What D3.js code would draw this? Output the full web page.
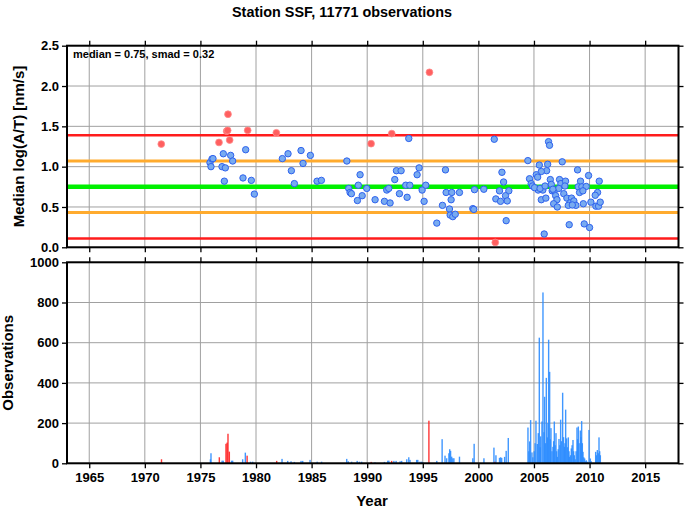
<!DOCTYPE html>
<html><head><meta charset="utf-8">
<script src="https://cdn.jsdelivr.net/npm/d3@7"></script>
<style>body{margin:0;background:#fff}svg{display:block}text{font-family:"Liberation Sans",Arial,sans-serif;font-weight:bold;fill:#000}</style>
</head><body><svg id="c" width="685" height="511"></svg>
<script>
// ---- data ----
const title = "Station SSF, 11771 observations";
const median = 0.75, smad = 0.32;
const xTicks = [1965,1970,1975,1980,1985,1990,1995,2000,2005,2010,2015];
const yTicksTop = [0,0.5,1,1.5,2,2.5];
const yTicksBot = [0,200,400,600,800,1000];
// median points [year, value]
const pointYears = [1971.48,1977.48,1977.36,1977.45,1979.25,1981.83,1976.67,1977.63,
 1975.86,1975.95,1976.04,1976.13,1976.94,1977.24,1977.06,1977.72,1977.90,1977.15,1979.07,1978.83,1979.58,1979.85,
 1982.37,1982.88,1983.18,1983.45,1984.05,1984.23,1984.89,1985.49,1985.88,
 1995.60,1992.21,1990.35,1993.74,1988.17,1989.36,1989.20,1988.34,1988.46,1988.58,1989.55,1989.12,1989.96,1990.71,
 1991.55,1992.06,1991.76,1991.94,1992.48,1992.63,1993.05,1992.90,1993.47,1993.83,1993.59,1994.49,1994.67,1994.94,
 1995.27,1995.12,1996.26,1997.04,1997.10,1997.61,1998.30,1997.55,1996.77,1997.40,1997.46,1997.70,1997.92,1999.50,
 1999.59,1999.65,2000.49,
 2001.52,2001.43,2006.31,2006.40,2004.45,2007.54,2005.48,2006.23,2006.14,2005.66,2005.21,2005.33,2002.12,2002.27,
 2004.60,2004.75,2004.87,2006.47,2006.56,2007.30,2007.42,2007.84,2007.78,2008.92,2009.19,2009.91,2010.87,2005.38,
 2005.80,2006.64,2006.82,2007.23,2007.68,2008.98,2009.31,2009.70,2009.10,2009.40,2010.72,2010.51,2001.90,2002.74,
 2001.57,2001.99,2002.44,2002.60,2005.66,2006.07,2006.95,2007.07,2006.77,2007.10,2007.96,2008.38,2008.23,2008.59,
 2008.77,2008.09,2008.45,2009.44,2010.12,2010.57,2010.81,2010.96,2002.50,2005.92,2008.17,2009.52,2010.00,
 2005.05,2005.55,2006.00,2006.70];
const pointValues = [1.28,1.65,1.44,1.45,1.45,1.42,1.30,1.33,
 1.05,1.00,1.095,1.10,1.00,0.985,1.16,1.14,1.07,0.82,1.21,0.86,0.83,0.66,
 1.10,1.16,0.95,0.79,1.20,1.04,1.14,0.82,0.83,
 2.17,1.41,1.285,1.35,1.07,0.90,0.77,0.73,0.68,0.665,0.64,0.58,0.73,0.59,
 0.57,0.55,0.71,0.73,0.84,0.95,0.95,0.665,0.77,0.77,0.62,0.90,0.985,0.71,
 0.77,0.57,0.30,0.96,0.68,0.68,0.68,0.59,0.52,0.475,0.40,0.38,0.41,0.48,
 0.47,0.715,0.72,
 0.06,1.34,1.31,1.265,1.075,1.06,1.02,1.03,0.95,0.94,0.90,0.87,0.93,0.81,
 0.85,0.79,0.76,0.84,0.78,0.84,0.79,0.82,0.76,0.96,0.82,0.89,0.82,0.71,
 0.71,0.70,0.70,0.73,0.665,0.75,0.75,0.755,0.68,0.70,0.68,0.645,0.70,0.70,
 0.60,0.57,0.64,0.575,0.59,0.61,0.64,0.59,0.54,0.50,0.61,0.61,0.55,0.575,
 0.52,0.52,0.525,0.54,0.56,0.51,0.51,0.56,0.33,0.165,0.28,0.29,0.245,
 0.74,0.73,0.76,0.72];
// months flagged as outliers (red) in both panels
const redPointYears = [1971.48,1977.48,1977.36,1977.45,1979.25,1981.83,1976.67,1977.63,1995.60,1992.21,1990.35,2001.52];
// observation counts per month
const barYears = [1971.5,1975.9,1975.95,1976.7,1976.95,1977.05,1977.3,1977.4,1977.48,1977.6,1977.8,1977.9,1978.8,1979.04,1979.2,1979.5,1979.7,
 1981.86,1982.34,1982.85,1983.15,1983.45,1984.05,1984.2,1984.86,1985.5,1985.9,1988.16,1988.3,1988.6,1989.1,1989.3,1989.5,
 1990.36,1990.7,1991.55,1991.85,1991.95,1992.2,1992.4,1992.6,1992.96,1993.1,1993.56,1993.74,1993.85,1994.45,1994.55,1994.75,
 1994.9,1995.0,1995.55,1996.26,1996.74,1997.0,1997.15,1997.35,1997.42,1997.5,1997.6,1997.7,1997.8,1998.3,1999.5,1999.62,
 2000.5,2001.4,2001.5,2001.58,2001.9,2002.0,2002.1,2002.36,2002.5,2002.69,
 2004.46,2004.54,2004.61,2004.70,2004.82,2004.90,2005.02,2005.10,2005.18,2005.30,2005.39,2005.48,2005.56,2005.60,2005.72,
 2005.81,2005.90,2005.96,2006.04,2006.11,2006.20,2006.26,2006.32,2006.41,2006.47,2006.53,2006.62,2006.71,2006.77,2006.83,
 2006.90,2006.98,2007.04,2007.10,2007.18,2007.25,2007.33,2007.40,2007.48,2007.58,2007.66,2007.73,2007.79,2007.85,2007.94,
 2008.02,2008.09,2008.15,2008.21,2008.29,2008.36,2008.43,2008.51,2008.57,2008.63,2008.71,2008.79,2008.87,2008.93,2008.99,
 2009.06,2009.17,2009.23,2009.29,2009.35,2009.41,2009.48,2009.56,2009.64,2009.71,2009.80,2009.95,2010.07,2010.15,2010.55,
 2010.62,2010.70,2010.78,2010.85,2010.91,2010.97];
const barCounts = [20,20,50,30,13,13,97,103,147,58,13,13,20,53,38,8,8,
 12,22,12,10,7,12,12,17,8,8,22,10,8,12,8,8,
 7,5,7,13,13,12,12,12,10,12,20,30,17,17,17,8,
 8,5,212,12,120,38,25,50,70,62,33,25,25,33,25,97,
 25,78,8,40,27,30,27,32,62,126,
 178,60,109,215,54,30,60,100,212,96,150,625,80,134,208,
 850,155,331,100,425,129,200,615,455,120,175,60,82,110,208,
 90,150,60,32,70,121,90,217,110,351,130,82,100,267,124,
 80,129,60,32,40,74,90,116,60,40,20,60,178,120,183,
 100,163,130,210,100,57,30,24,10,15,8,166,24,10,57,
 40,66,50,129,60,40];
const redBarYears = [1971.5,1976.7,1977.3,1977.4,1977.48,1977.6,1979.2,1981.86,1990.36,1992.2,1995.55,2001.5];

// ---- layout ----
const svg = d3.select("#c");
const x = d3.scaleLinear().domain([1963, 2018]).range([67, 678.5]);
const yT = d3.scaleLinear().domain([0, 2.5]).range([247.3, 45.7]);
const yB = d3.scaleLinear().domain([0, 1000]).range([463.3, 262.3]);
const L = 67, R = 678.5;

function panel(y, yticks) {
  const g = svg.append("g");
  g.selectAll(".gx").data(xTicks).join("line")
    .attr("x1", d => x(d)).attr("x2", d => x(d))
    .attr("y1", y.range()[0]).attr("y2", y.range()[1])
    .attr("stroke", "#a0a0a0").attr("stroke-width", 1);
  g.selectAll(".gy").data(yticks).join("line")
    .attr("x1", L).attr("x2", R).attr("y1", d => y(d)).attr("y2", d => y(d))
    .attr("stroke", "#a0a0a0").attr("stroke-width", 1);
  return g;
}
function frame(y, yticks, fmt, showX) {
  const g = svg.append("g");
  const top = y.range()[1], bot = y.range()[0];
  g.append("g").attr("transform", `translate(${L},0)`)
    .call(d3.axisLeft(y).tickValues(yticks).tickFormat(fmt).tickSize(5).tickPadding(3))
    .call(a => { a.select(".domain").remove(); a.selectAll("text").style("font-size","13px"); a.selectAll("line").attr("stroke-width",1.3); });
  g.append("g").attr("transform", `translate(${R},0)`)
    .call(d3.axisRight(y).tickValues(yticks).tickFormat("").tickSize(5))
    .call(a => { a.select(".domain").remove(); a.selectAll("line").attr("stroke-width",1.3); });
  g.append("g").attr("transform", `translate(0,${top})`)
    .call(d3.axisTop(x).tickValues(xTicks).tickFormat("").tickSize(5))
    .call(a => { a.select(".domain").remove(); a.selectAll("line").attr("stroke-width",1.3); });
  g.append("g").attr("transform", `translate(0,${bot})`)
    .call(d3.axisBottom(x).tickValues(xTicks).tickFormat(showX ? d3.format("d") : "").tickSize(5).tickPadding(4))
    .call(a => { a.select(".domain").remove(); a.selectAll("text").style("font-size","13px"); a.selectAll("line").attr("stroke-width",1.3); });
  g.append("rect").attr("x", L).attr("y", top).attr("width", R - L).attr("height", bot - top)
    .attr("fill", "none").attr("stroke", "#000").attr("stroke-width", 2);
}

// top panel
const gT = panel(yT, yTicksTop);
const bands = [
  {v: median + 2*smad, c: "#ff1c1c", w: 2.6},
  {v: median + smad, c: "#ffab2e", w: 3},
  {v: median, c: "#00f000", w: 4.5},
  {v: median - smad, c: "#ffab2e", w: 3},
  {v: median - 2*smad, c: "#ff1c1c", w: 2.6}
];
gT.selectAll(".band").data(bands).join("line")
  .attr("x1", L).attr("x2", R).attr("y1", d => yT(d.v)).attr("y2", d => yT(d.v))
  .attr("stroke", d => d.c).attr("stroke-width", d => d.w);
const pts = pointYears.map((yr, i) => ({yr, v: pointValues[i], out: redPointYears.includes(yr)}));
gT.selectAll(".p").data(pts.filter(d => !d.out)).join("circle")
  .attr("cx", d => x(d.yr)).attr("cy", d => yT(d.v)).attr("r", 3.2)
  .attr("fill", "#78abf0").attr("stroke", "#2f62ee").attr("stroke-width", 1);
gT.selectAll(".q").data(pts.filter(d => d.out)).join("circle")
  .attr("cx", d => x(d.yr)).attr("cy", d => yT(d.v)).attr("r", 3.4)
  .attr("fill", "#ff5f5f").attr("stroke", "#ff8a8a").attr("stroke-width", 0.8);
frame(yT, yTicksTop, d3.format(".1f"), false);
svg.append("text").attr("x", 73).attr("y", 58).style("font-size", "11px")
  .text(`median = ${median.toFixed(2)}, smad = ${smad.toFixed(2)}`);

// bottom panel
const gB = panel(yB, yTicksBot);
const bars = barYears.map((yr, i) => ({yr, n: barCounts[i], red: redBarYears.includes(yr)}));
gB.selectAll(".b").data(bars).join("rect")
  .attr("x", d => x(d.yr) - 0.7).attr("width", 1.4)
  .attr("y", d => yB(d.n)).attr("height", d => yB(0) - yB(d.n))
  .attr("fill", d => d.red ? "#ff2020" : "#2b8cff").attr("fill-opacity", 0.9);
frame(yB, yTicksBot, d3.format("d"), true);

// labels
svg.append("text").attr("x", 342).attr("y", 17).attr("text-anchor", "middle").style("font-size", "14.4px").text(title);
svg.append("text").attr("transform", `translate(24,${(yT.range()[0]+yT.range()[1])/2}) rotate(-90)`)
  .attr("text-anchor", "middle").style("font-size", "15px").text("Median log(A/T) [nm/s]");
svg.append("text").attr("transform", `translate(13,${(yB.range()[0]+yB.range()[1])/2}) rotate(-90)`)
  .attr("text-anchor", "middle").style("font-size", "15px").text("Observations");
svg.append("text").attr("x", 372).attr("y", 506).attr("text-anchor", "middle").style("font-size", "15px").text("Year");
</script></body></html>
